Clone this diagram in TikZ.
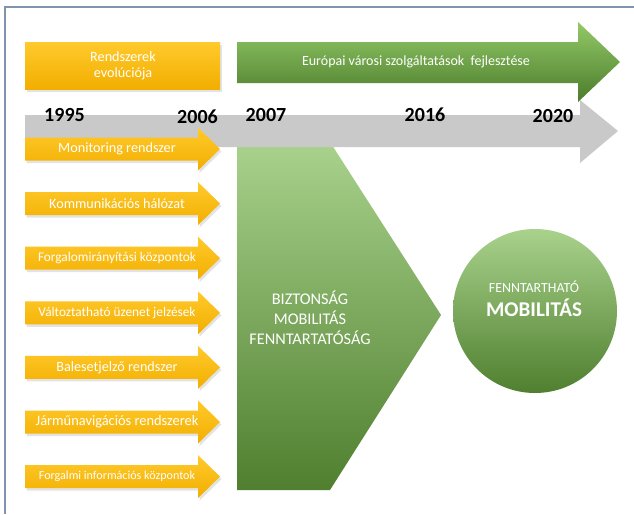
\documentclass[tikz,border=0pt]{standalone}
\usepackage{fontspec}
\setmainfont{Carlito}
\usetikzlibrary{shadows}

\definecolor{frameline}{HTML}{8194AE}
\definecolor{orangeTop}{HTML}{FFCA2C}
\definecolor{orangeBot}{HTML}{F2AE00}
\definecolor{greyArrow}{HTML}{C9C9C9}
\definecolor{greenTop}{HTML}{A9D28C}
\definecolor{greenBot}{HTML}{4F7F2F}
\definecolor{greenArrowTop}{HTML}{93C968}
\definecolor{greenArrowBot}{HTML}{4B7C2B}

\tikzset{
  orangefill/.style={top color=orangeTop, bottom color=orangeBot,
    drop shadow={opacity=0.22, shadow xshift=1.5pt, shadow yshift=-2.5pt}},
  greenfill/.style={top color=greenTop, bottom color=greenBot},
  lighttext/.style={text=white, inner sep=0pt, align=center},
  yearlabel/.style={inner sep=0pt, font=\fontsize{20}{22}\selectfont\bfseries}
}

\begin{document}
\begin{tikzpicture}[x=1pt, y=-1pt]
  % canvas
  \useasboundingbox (0,0) rectangle (634,514);
  \fill[white] (0,0) rectangle (634,514);

  % frame lines (left and top)
  \draw[frameline, line width=1.3pt] (5,514) -- (5,7) -- (634,7);

  % central pentagon: goals
  \path[greenfill] (237,142) -- (330,142) -- (441,315) -- (330,490) -- (237,490) -- cycle;
  \node[lighttext, font=\fontsize{16.3}{20}\selectfont] (goals) at (310,318)
    {BIZTONSÁG\\MOBILITÁS\\FENNTARTATÓSÁG};

  % outcome circle
  \node[circle, minimum size=164pt, inner sep=0pt, greenfill] (goal) at (535,311) {};
  \node[lighttext, font=\fontsize{13.9}{16}\selectfont] (goalA) at (534,287) {FENNTARTHATÓ};
  \node[lighttext, font=\fontsize{21}{24}\selectfont\bfseries] (goalB) at (534,308) {MOBILITÁS};

  % grey timeline arrow
  \fill[greyArrow] (25,115) -- (580,115) -- (580,100) -- (618,131) -- (580,163) -- (580,147) -- (25,147) -- cycle;

  % green development arrow
  \path[top color=greenArrowTop, bottom color=greenArrowBot]
    (237,42) -- (578,42) -- (578,22) -- (620,62) -- (578,102) -- (578,83) -- (237,83) -- cycle;
  \node[lighttext, font=\fontsize{14}{16}\selectfont] (euro) at (416,62)
    {Európai városi szolgáltatások\ \ fejlesztése};

  % orange heading box
  \path[orangefill] (25,42) rectangle (220,89);
  \node[lighttext, font=\fontsize{14.2}{16}\selectfont] (evo) at (123,66)
    {Rendszerek\\evolúciója};

  % orange system arrows
  \foreach \yc/\nm/\txt/\fs in {
      149/mon/Monitoring rendszer/14.2,
      203.6/kom/Kommunikációs hálózat/14.2,
      258.2/forg/Forgalomirányítási központok/13.3,
      312.8/valt/Változtatható üzenet jelzések/13.3,
      367.4/bal/Balesetjelző rendszer/14.2,
      422/jarm/Járműnavigációs rendszerek/14.4,
      476.6/info/Forgalmi információs központok/12.1} {
    \path[orangefill] (25,\yc-11.5) -- (198,\yc-11.5) -- (198,\yc-21.5) -- (220,\yc)
      -- (198,\yc+21.5) -- (198,\yc+11.5) -- (25,\yc+11.5) -- cycle;
    \node[lighttext, font=\fontsize{\fs}{\fs}\selectfont] (\nm) at (117,\yc) {\txt};
  }

  % years on the timeline
  \node[yearlabel] (y1995) at (64.5,115) {1995};
  \node[yearlabel] (y2006) at (197.5,116.5) {2006};
  \node[yearlabel] (y2007) at (266,115) {2007};
  \node[yearlabel] (y2016) at (425,115) {2016};
  \node[yearlabel] (y2020) at (553,116) {2020};
\end{tikzpicture}
\end{document}
